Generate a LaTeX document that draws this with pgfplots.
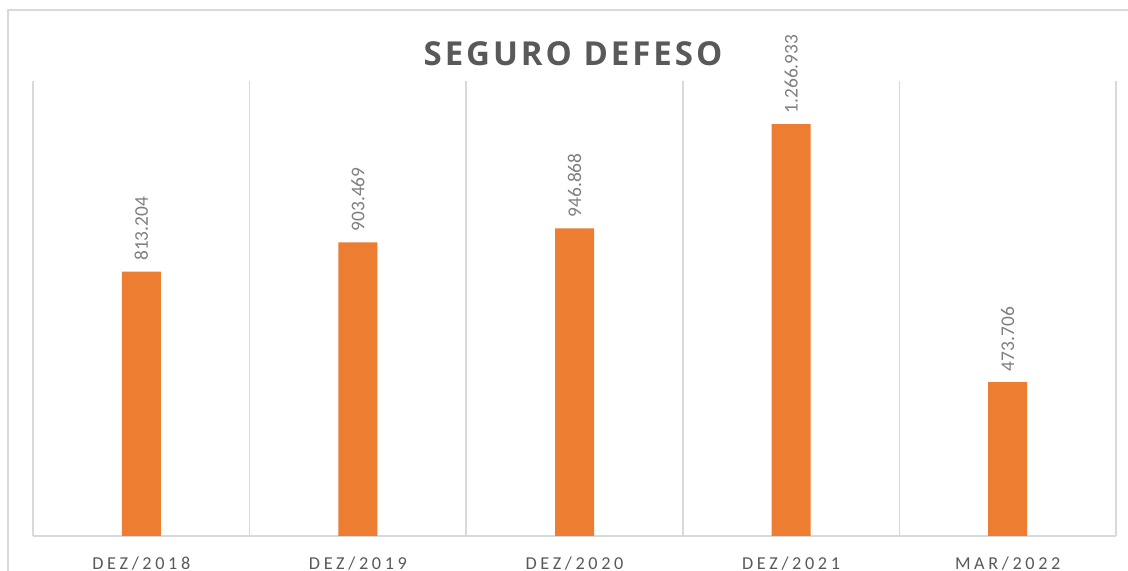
\documentclass[border=0pt]{standalone}
\usepackage{pgfplots}
\pgfplotsset{compat=1.18}
\usepackage{pgfplotstable}
\usepackage{fontspec}
\setmainfont{Carlito}
\newfontfamily\spacedfont[LetterSpace=20]{Carlito}
\newfontfamily\titlefont[LetterSpace=9]{Open Sans}
\definecolor{barorange}{HTML}{ED7D31}
\definecolor{gridgray}{HTML}{D9D9D9}
\definecolor{labelgray}{HTML}{7F7F7F}
\definecolor{titlegray}{HTML}{595959}
\pgfplotstableread{
x y label
0 813204 813.204
1 903469 903.469
2 946868 946.868
3 1266933 1.266.933
4 473706 473.706
}\datatable
\begin{document}
\begin{tikzpicture}
\useasboundingbox (0,0) rectangle (564pt,285.5pt);
\draw[gridgray, line width=1pt] (4pt,-5pt) -- (4pt,280.5pt) -- (570pt,280.5pt);
\begin{axis}[
  at={(16.5pt,17.5pt)}, anchor=south west,
  scale only axis, width=541.5pt, height=227.5pt,
  xmin=-0.5, xmax=4.5, ymin=0, ymax=1400000,
  axis x line*=bottom, axis y line=none,
  x axis line style={draw=gridgray, line width=0.8pt, -},
  xtick={0,1,2,3,4},
  xticklabels={DEZ/2018,DEZ/2019,DEZ/2020,DEZ/2021,MAR/2022},
  major tick length=0pt,
  minor xtick={-0.5,0.5,1.5,2.5,3.5,4.5},
  minor tick length=0pt,
  xminorgrids=true,
  minor grid style={draw=gridgray, line width=0.8pt},
  xticklabel style={font=\spacedfont\fontsize{9.1}{11}\selectfont, text=titlegray, inner sep=0pt, anchor=north, yshift=-10pt},
  ytick=\empty,
  clip=false,
]
\addplot[ybar, bar width=19.5pt, fill=barorange, draw=none,
  point meta=explicit symbolic,
  nodes near coords,
  every node near coord/.append style={rotate=90, anchor=west, inner sep=0pt, outer sep=5.5pt, font=\fontsize{9.7}{11}\selectfont, text=labelgray},
] table[x=x, y=y, meta=label] {\datatable};
\end{axis}
\node[font=\titlefont\bfseries\fontsize{16.5}{19}\selectfont, text=titlegray] at (286.5pt,258.5pt) {SEGURO DEFESO};
\end{tikzpicture}
\end{document}
